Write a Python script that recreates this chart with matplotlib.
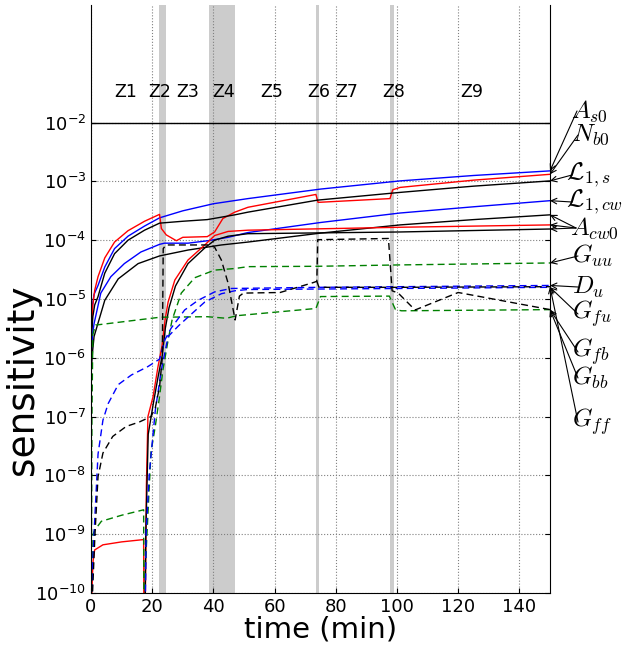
import numpy as np
import matplotlib
matplotlib.use('Agg')
import matplotlib.pyplot as plt

plt.rcParams['mathtext.fontset'] = 'cm'

# zones (min) and labels
zone_spans = [(22.3, 24.6), (38.4, 47.2), (73.5, 74.4), (97.7, 99.1)]
zone_names = ['Z1', 'Z2', 'Z3', 'Z4', 'Z5', 'Z6', 'Z7', 'Z8', 'Z9']
zone_pos = [11.4, 22.4, 31.5, 43.2, 58.9, 74.4, 83.5, 98.9, 124.3]

# solid curves
t_b1 = [0, 0.1, 0.5, 1, 2.3, 4.5, 7.7, 12.1, 17.5, 22.4, 30, 40, 51.3, 75, 101, 125, 150]
s_b1 = [1e-11, 3e-6, 8e-6, 1.2e-5, 1.7e-5, 3.5e-5, 7.2e-5, 1.17e-4, 1.74e-4, 2.4e-4, 3.16e-4,
        4.17e-4, 5.1e-4, 7.4e-4, 1.02e-3, 1.26e-3, 1.51e-3]

t_r1 = [0, 0.1, 0.6, 1.2, 2.3, 4.5, 7.7, 12.1, 17.5, 22.4, 23.0, 24.6, 27.9, 30, 38, 40.4, 43.1,
        47, 51.3, 73.5, 74.2, 97.7, 98.6, 101, 125, 150]
s_r1 = [1e-11, 2.5e-6, 7.9e-6, 1.4e-5, 2.4e-5, 5e-5, 9.3e-5, 1.45e-4, 2.1e-4, 2.75e-4, 1.58e-4,
        1.23e-4, 9.8e-5, 1.12e-4, 1.15e-4, 1.38e-4, 2.34e-4, 3.0e-4, 3.63e-4, 6.0e-4, 4.4e-4,
        5.1e-4, 7.2e-4, 7.9e-4, 1.05e-3, 1.32e-3]

t_k1 = [0, 0.1, 0.6, 1.2, 2.3, 4.5, 7.7, 12.1, 17.5, 22.4, 30, 38, 47, 51.3, 74, 101, 125, 150]
s_k1 = [1e-11, 2e-6, 5e-6, 7.9e-6, 1.1e-5, 2.75e-5, 5.9e-5, 1e-4, 1.48e-4, 1.95e-4, 2.1e-4,
        2.24e-4, 2.7e-4, 3.0e-4, 4.8e-4, 6.5e-4, 8.3e-4, 1.02e-3]

t_b2 = [0, 0.1, 0.5, 1, 3.2, 6.5, 10.9, 16.3, 22.4, 24, 31.7, 38.2, 44.8, 51.3, 75, 101, 125, 150]
s_b2 = [1e-11, 1e-6, 2.5e-6, 3.8e-6, 1.26e-5, 2.4e-5, 4e-5, 6.3e-5, 8.5e-5, 8.9e-5, 8.9e-5,
        9.8e-5, 1.12e-4, 1.35e-4, 2.0e-4, 2.9e-4, 3.7e-4, 4.7e-4]

t_k2 = [0, 0.1, 0.5, 1, 4.5, 8.9, 15.4, 22.4, 31.7, 42.6, 51.3, 75, 101, 125, 150]
s_k2 = [1e-11, 6.3e-7, 1.26e-6, 2.3e-6, 9.5e-6, 2.2e-5, 4e-5, 5.4e-5, 6.8e-5, 8.3e-5, 9.3e-5,
        1.32e-4, 1.82e-4, 2.24e-4, 2.7e-4]

t_r2 = [0, 0.3, 0.5, 0.7, 1.2, 3.9, 10, 17.2, 17.4, 18.1, 18.6, 20.3, 21.9, 23.2, 24.2, 25.2,
        27.4, 31.7, 37.2, 40.4, 44.8, 51.3, 101, 150]
s_r2 = [1e-12, 1e-10, 2.2e-10, 3.6e-10, 5.4e-10, 6.6e-10, 7.4e-10, 8.1e-10, 1e-12, 6.5e-9,
        1e-7, 2.2e-7, 7.1e-7, 1.58e-6, 4.4e-6, 8.9e-6, 2.1e-5, 4.6e-5, 8.3e-5, 1.2e-4,
        1.41e-4, 1.48e-4, 1.66e-4, 1.82e-4]

t_k3 = [17.4, 17.9, 18.7, 20.3, 22, 23.3, 24.3, 25.5, 27.6, 31.7, 37.2, 40.4, 44.8, 51.3, 101, 150]
s_k3 = [1e-12, 1e-9, 5e-8, 1.6e-7, 5e-7, 1.1e-6, 3.2e-6, 7.1e-6, 1.66e-5, 4e-5, 7.4e-5, 1e-4,
        1.17e-4, 1.29e-4, 1.38e-4, 1.55e-4]

# dashed curves
t_g1 = [0, 0.3, 0.7, 1.2, 3.4, 10, 17.2, 17.4, 17.8, 19.6, 21, 22.4, 23.5, 25.2, 26.5, 29.5,
        33.9, 40.4, 47, 51.3, 74, 101, 150]
s_g1 = [1e-12, 1e-10, 1e-9, 1.17e-9, 1.66e-9, 2.1e-9, 2.6e-9, 1e-12, 3e-10, 2.5e-8, 6.8e-8,
        2.2e-7, 6.2e-7, 2e-6, 4.4e-6, 1.26e-5, 2.3e-5, 3.1e-5, 3.3e-5, 3.55e-5, 3.6e-5,
        3.8e-5, 4.1e-5]

t_g2 = [0, 0.3, 0.6, 1.5, 7, 22.6, 38, 44.3, 47.6, 73.5, 75, 97.5, 99.5, 101.5, 150]
s_g2 = [1e-12, 1e-7, 2.5e-6, 3.6e-6, 3.9e-6, 4.9e-6, 5e-6, 4.7e-6, 5.2e-6, 6.9e-6, 1.1e-5,
        1.12e-5, 6.6e-6, 6.3e-6, 6.6e-6]

t_db1 = [0, 0.5, 1.2, 2.3, 3.9, 5.6, 8.9, 13.2, 18.6, 22.4, 24.1, 26.2, 30.6, 35, 40.4, 45.8,
         75, 101, 150]
s_db1 = [1e-12, 3e-10, 1.7e-9, 2.3e-8, 8.7e-8, 1.66e-7, 3.5e-7, 5.1e-7, 7.1e-7, 9.5e-7, 2e-6,
         3.2e-6, 6.5e-6, 9.5e-6, 1.32e-5, 1.51e-5, 1.58e-5, 1.62e-5, 1.7e-5]

t_db2 = [17.4, 18, 19, 21, 23, 25.2, 28.6, 32.9, 37.2, 42.6, 47, 51.3, 101, 150]
s_db2 = [1e-12, 1e-9, 1e-8, 1.26e-7, 6.3e-7, 2.3e-6, 3.5e-6, 5.6e-6, 8.9e-6, 1.23e-5, 1.38e-5,
         1.45e-5, 1.51e-5, 1.58e-5]

t_dk1 = [0, 0.5, 1.3, 2.3, 3.9, 7.1, 11.5, 15.8, 19.6, 21, 22.4, 23.3, 23.6, 24.5, 38.5, 40.4,
         42.6, 44.8, 47.1, 48.5, 49.8, 61.8, 72.6, 73.8, 74.1, 97.2, 98.4, 100.4, 105.9, 120, 150]
s_dk1 = [1e-12, 1e-10, 1e-9, 9.5e-9, 2.4e-8, 4.6e-8, 6.8e-8, 8.1e-8, 1e-7, 1.4e-7, 3.2e-7,
         1e-6, 7.2e-5, 8.3e-5, 8.3e-5, 7.6e-5, 4.6e-5, 1.86e-5, 4.4e-6, 1.12e-5, 1.26e-5,
         1.29e-5, 1.9e-5, 2e-5, 1.02e-4, 1.07e-4, 1.38e-5, 1.26e-5, 6.5e-6, 1.29e-5, 6.6e-6]

t_dk2 = [73.8, 74.5, 101, 150]
s_dk2 = [2e-5, 1.58e-5, 1.58e-5, 1.62e-5]

solid = [(t_b1, s_b1, 'b'), (t_r1, s_r1, 'r'), (t_k1, s_k1, 'k'), (t_b2, s_b2, 'b'),
         (t_k2, s_k2, 'k'), (t_r2, s_r2, 'r'), (t_k3, s_k3, 'k')]
dashed = [(t_g1, s_g1, 'g'), (t_g2, s_g2, 'g'), (t_db1, s_db1, 'b'), (t_db2, s_db2, 'b'),
          (t_dk1, s_dk1, 'k'), (t_dk2, s_dk2, 'k')]

# right-hand labels: text, text position (image px), target curve ends
labels = [
    (r'$A_{s0}$', (571, 111), [s_b1[-1]]),
    (r'$N_{b0}$', (572, 135), [s_r1[-1]]),
    (r'$\mathcal{L}_{1,s}$', (566, 175), [s_k1[-1]]),
    (r'$\mathcal{L}_{1,cw}$', (566, 202), [s_b2[-1]]),
    (r'$A_{cw0}$', (570, 228), [s_k2[-1], s_r2[-1], s_k3[-1]]),
    (r'$G_{uu}$', (572, 256), [s_g1[-1]]),
    (r'$D_u$', (572, 287), [s_db1[-1]]),
    (r'$G_{fu}$', (572, 314), [s_db2[-1]]),
    (r'$G_{fb}$', (572, 352), [s_g2[-1]]),
    (r'$G_{bb}$', (572, 378), [s_dk1[-1]]),
    (r'$G_{ff}$', (572, 422), [s_dk2[-1]]),
]

W, H = 631, 646
fig = plt.figure(figsize=(W / 100, H / 100), dpi=100)
ax = fig.add_axes([91 / W, 53 / H, (550 - 91) / W, (593 - 5) / H])

for a, b in zone_spans:
    ax.axvspan(a, b, color='0.8', lw=0, zorder=0)

for t, s, c in solid:
    ax.plot(t, s, color=c, lw=1.0)
for t, s, c in dashed:
    ax.plot(t, s, color=c, lw=1.0, dashes=(5, 3))

ax.axhline(1e-2, color='k', lw=1.0)
for name, x in zip(zone_names, zone_pos):
    ax.text(x, 0.033, name, ha='center', va='center', fontsize=12.5)

ax.set_yscale('log')
ax.set_xlim(0, 150)
ax.set_ylim(1e-10, 1)
ax.set_yticks([10.0 ** e for e in range(-10, -1)])
ax.yaxis.set_minor_locator(matplotlib.ticker.NullLocator())
ax.set_xticks(range(0, 141, 20))
ax.tick_params(labelsize=13, direction='in', right=True, top=False)
ax.spines['top'].set_visible(False)
ax.grid(True, which='major', ls=':', color='0.5', lw=0.8)
ax.set_xlabel('time (min)', fontsize=21, labelpad=0)
ax.set_ylabel('sensitivity', fontsize=27, va='center')
ax.yaxis.set_label_coords(-0.148, 0.362)

for txt, (px, py), targets in labels:
    ax.text(px, H - py, txt, transform=None, fontsize=18, ha='left', va='center')
    for v in targets:
        ax.annotate('', xy=(150, v), xycoords='data', xytext=(px + 6, H - py),
                    textcoords='figure pixels',
                    arrowprops=dict(arrowstyle='->', color='k', lw=0.8, shrinkA=0, shrinkB=0),
                    annotation_clip=False)

fig.savefig('out.png', dpi=100)
